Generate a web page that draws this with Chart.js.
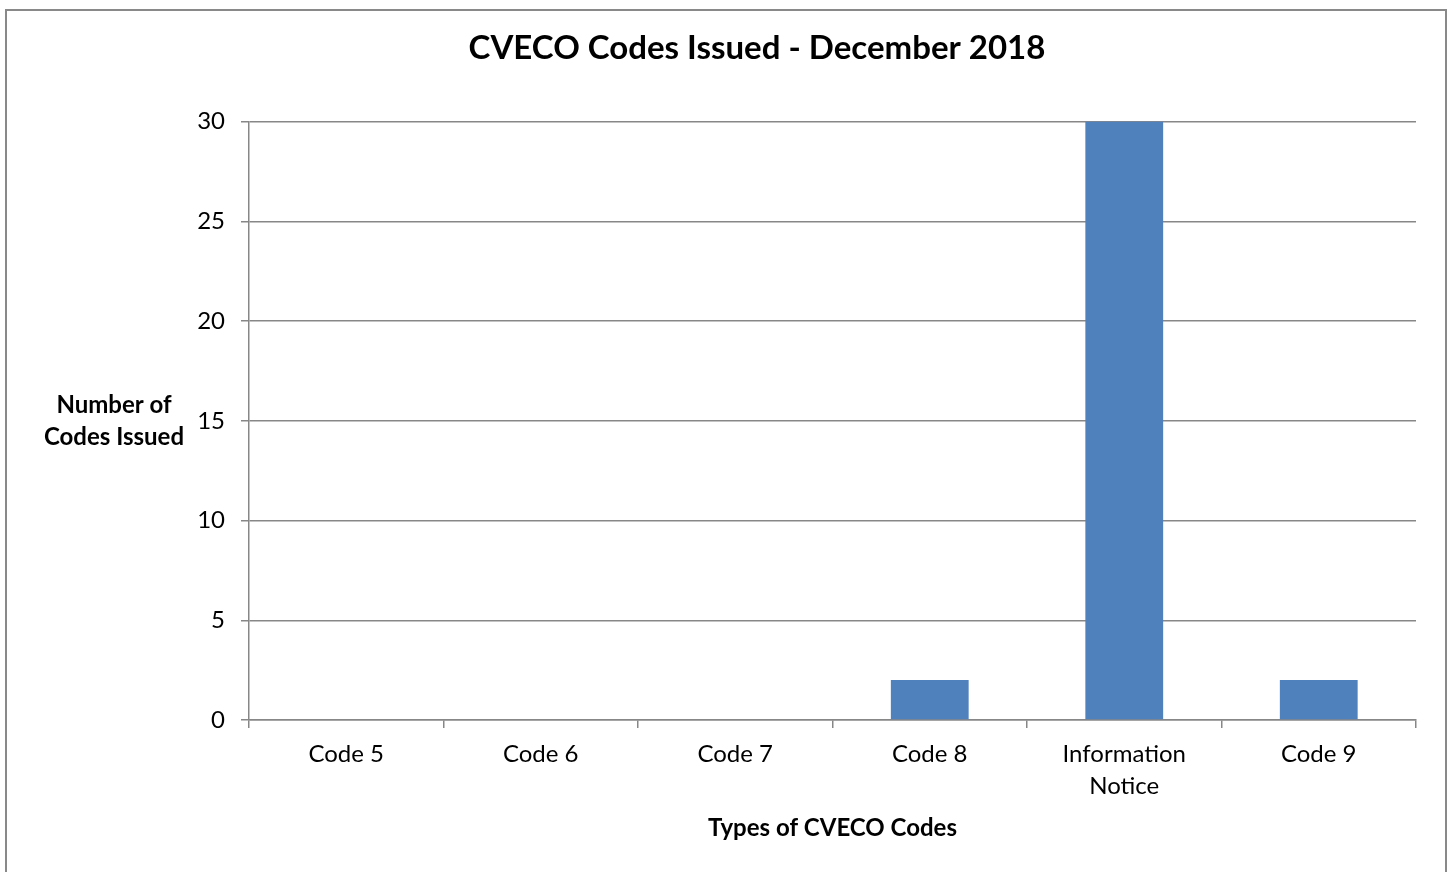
<!DOCTYPE html>
<html>
<head>
<meta charset="utf-8">
<title>CVECO Codes Issued - December 2018</title>
<script src="https://cdn.jsdelivr.net/npm/chart.js@4"></script>
<style>
  html, body { margin: 0; padding: 0; background: #fff; }
  #wrap { width: 1452px; height: 872px; }
</style>
</head>
<body>
<div id="wrap"><canvas id="chart" width="1452" height="872"></canvas></div>
<script>
// categories and counts
const categories = ['Code 5', 'Code 6', 'Code 7', 'Code 8', ['Information', 'Notice'], 'Code 9'];
const codesIssued = [0, 0, 0, 2, 30, 2];
const yTicks = [0, 5, 10, 15, 20, 25, 30];

const FONT = 'Lato, "Open Sans", sans-serif';
const GRID = '#878787';

// frame around the whole chart + horizontal y-axis title (Excel style)
const extras = {
  id: 'extras',
  beforeDraw(chart) {
    const c = chart.ctx;
    c.save();
    c.fillStyle = '#fff';
    c.fillRect(0, 0, chart.width, chart.height);
    c.strokeStyle = '#898989';
    c.lineWidth = 2;
    c.strokeRect(6, 10, 1440, 880);
    c.restore();
  },
  afterDraw(chart) {
    const c = chart.ctx;
    const a = chart.chartArea;
    const mid = (a.top + a.bottom) / 2;
    c.save();
    c.fillStyle = '#000';
    c.font = 'bold 24px ' + FONT;
    c.textAlign = 'center';
    c.textBaseline = 'middle';
    c.fillText('Number of', 114, mid - 16);
    c.fillText('Codes Issued', 114, mid + 16);
    c.restore();
  }
};

new Chart(document.getElementById('chart'), {
  type: 'bar',
  data: {
    labels: categories,
    datasets: [{
      label: 'Codes Issued',
      data: codesIssued,
      backgroundColor: '#4F81BD',
      barPercentage: 0.4,
      categoryPercentage: 1.0
    }]
  },
  options: {
    responsive: false,
    animation: false,
    devicePixelRatio: 1,
    layout: { padding: { left: 98, right: 36, top: 0, bottom: 0 } },
    plugins: {
      legend: { display: false },
      tooltip: { enabled: false },
      title: {
        display: true,
        text: 'CVECO Codes Issued - December 2018',
        color: '#000',
        font: { family: FONT, size: 33, weight: 'bold', lineHeight: 1.2 },
        padding: { top: 29, bottom: 53 }
      }
    },
    scales: {
      x: {
        grid: { offset: true, drawOnChartArea: false, color: GRID, tickLength: 8, lineWidth: 1.5 },
        border: { color: GRID, width: 1.5 },
        ticks: { color: '#000', font: { family: FONT, size: 24, lineHeight: 1.33 }, padding: 10, maxRotation: 0, autoSkip: false },
        title: {
          display: true,
          text: 'Types of CVECO Codes',
          color: '#000',
          font: { family: FONT, size: 24, weight: 'bold', lineHeight: 1.2 },
          padding: { top: 0, bottom: 29 }
        },
        afterFit(s) { s.height = 152; }
      },
      y: {
        min: 0,
        max: 30,
        afterBuildTicks(s) { s.ticks = yTicks.map(v => ({ value: v })); },
        grid: { color: GRID, tickLength: 8, lineWidth: 1.5 },
        border: { color: GRID, width: 1.5 },
        ticks: { color: '#000', font: { family: FONT, size: 24 }, padding: 16 },
        afterFit(s) { s.width = 151; }
      }
    }
  },
  plugins: [extras]
});
</script>
</body>
</html>
